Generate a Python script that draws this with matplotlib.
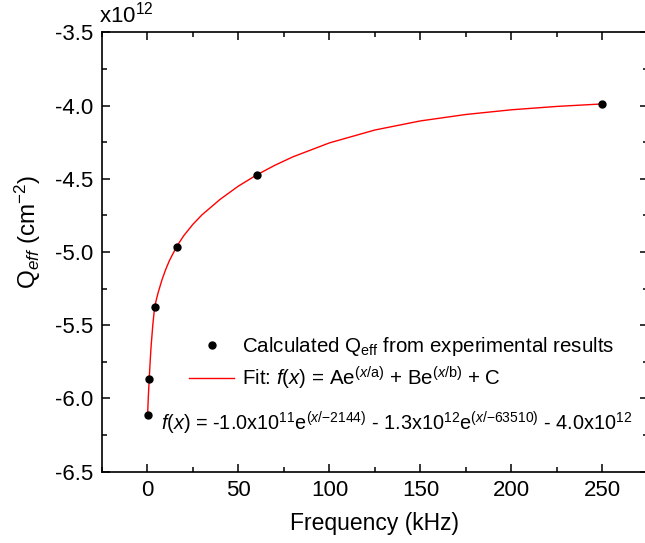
import matplotlib
matplotlib.use("Agg")
import matplotlib.pyplot as plt
from matplotlib.ticker import MultipleLocator, FormatStrFormatter

plt.rcParams['font.family'] = ['Liberation Sans', 'DejaVu Sans']
plt.rcParams['mathtext.fontset'] = 'custom'
plt.rcParams['mathtext.rm'] = 'Liberation Sans'
plt.rcParams['mathtext.it'] = 'Liberation Sans:italic'
plt.rcParams['axes.unicode_minus'] = False

# calculated points (frequency in kHz, Qeff in 1e12 cm^-2)
freq = [0.1, 1, 4, 16, 60, 250]
qeff = [-6.11, -5.865, -5.373, -4.964, -4.474, -3.989]

# fit curve
fit_freq = [0.1, 0.5, 1, 1.5, 2, 3, 4, 5, 6, 8, 10, 12, 16, 20, 25, 30, 40, 50,
            60, 70, 80, 100, 125, 150, 175, 200, 225, 250]
fit_qeff = [-6.11, -5.99, -5.865, -5.751, -5.648, -5.493, -5.373, -5.321, -5.273,
            -5.190, -5.121, -5.061, -4.964, -4.888, -4.811, -4.746, -4.640, -4.550,
            -4.474, -4.408, -4.350, -4.255, -4.167, -4.105, -4.061, -4.029, -4.006, -3.989]

fig = plt.figure(figsize=(6.45, 5.43), dpi=100)
ax = fig.add_axes([0.158, 0.1313, 0.8465, 0.8092])

ax.plot(fit_freq, fit_qeff, color='red', lw=1.0,
        label=r'Fit: $f(x)$ = Ae$^{(x/\mathrm{a})}$ + Be$^{(x/\mathrm{b})}$ + C')
ax.plot(freq, qeff, 'o', color='black', ms=5, ls='none',
        label=r'Calculated Q$_{\mathrm{eff}}$ from experimental results')

ax.set_xlim(-25, 275)
ax.set_ylim(-6.5, -3.5)
ax.xaxis.set_major_locator(MultipleLocator(50))
ax.xaxis.set_minor_locator(MultipleLocator(25))
ax.yaxis.set_major_locator(MultipleLocator(0.5))
ax.yaxis.set_minor_locator(MultipleLocator(0.25))
ax.yaxis.set_major_formatter(FormatStrFormatter('%.1f'))

ax.tick_params(which='both', direction='in', top=True, right=True, labelsize=16, width=1.1)
ax.tick_params(which='major', length=6, pad=6)
ax.tick_params(which='minor', length=3.5)
for s in ax.spines.values():
    s.set_linewidth(1.2)

ax.set_xlabel('Frequency (kHz)', fontsize=16.5, labelpad=8)
ax.set_ylabel(r'Q$_{\mathit{eff}}$ (cm$^{-2}$)', fontsize=17.5)
ax.yaxis.set_label_coords(-0.107, 0.545)

ax.text(-0.005, 1.01, r'x10$^{12}$', transform=ax.transAxes, fontsize=16,
        ha='left', va='bottom')

handles, labels = ax.get_legend_handles_labels()
ax.legend(handles[::-1], labels[::-1], loc='upper left', bbox_to_anchor=(0.16, 0.31),
          frameon=False, fontsize=14.8, handlelength=2.2, borderpad=0, borderaxespad=0,
          labelspacing=0.3, handletextpad=0.35)

ax.text(0.108, 0.111,
        r'$f(x)$ = -1.0x10$^{11}$e$^{(x/\mathrm{-2144})}$ - 1.3x10$^{12}$e$^{(x/\mathrm{-63510})}$ - 4.0x10$^{12}$',
        transform=ax.transAxes, fontsize=14.3, ha='left', va='center')

fig.savefig('out.png', dpi=100)
